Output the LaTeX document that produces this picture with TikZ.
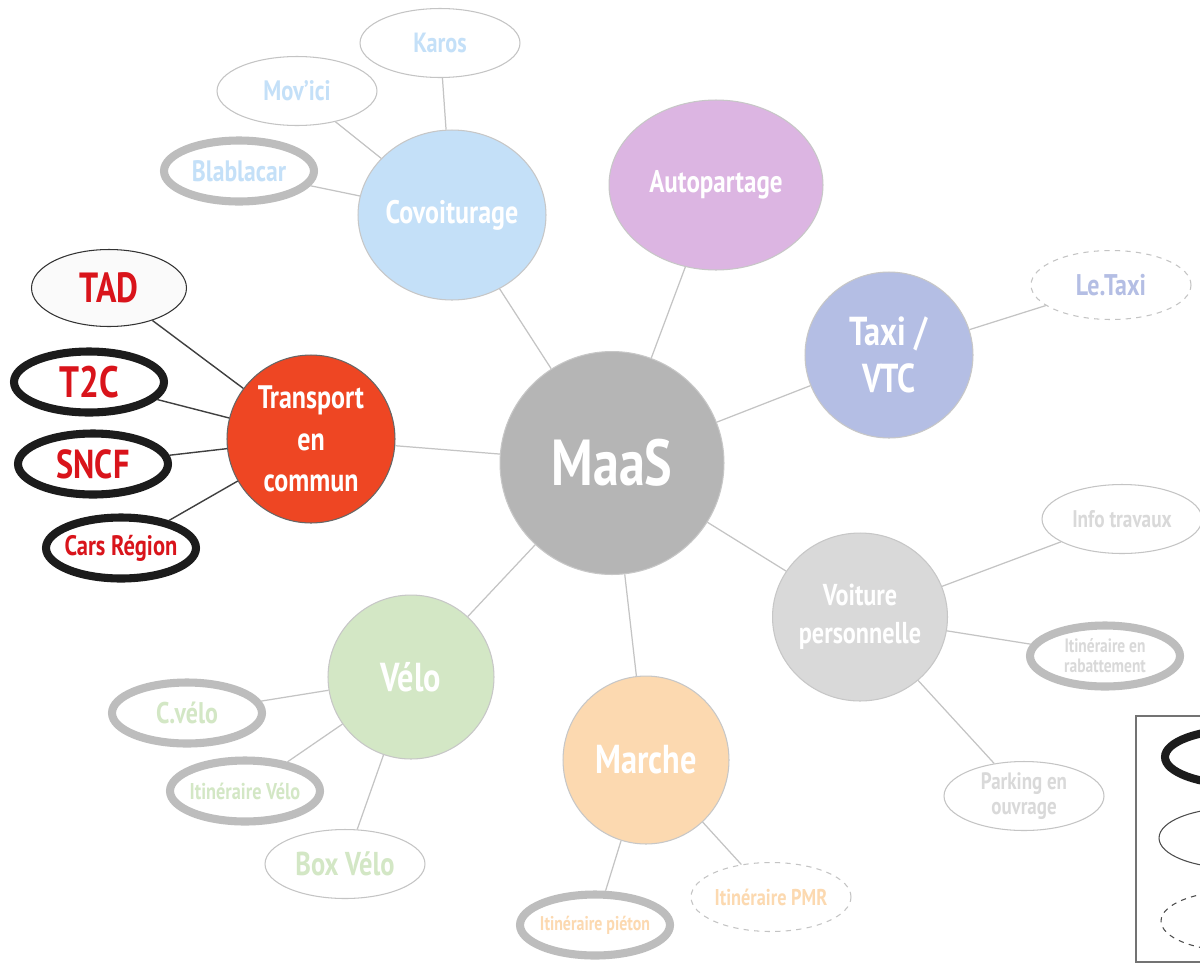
\documentclass[tikz,border=0pt]{standalone}
\usepackage{fontspec}
\setmainfont{PT Sans}[FakeStretch=0.8]
\usepackage{tikz}
\usetikzlibrary{shapes.geometric, positioning}
\definecolor{colMaas}{RGB}{181, 181, 181}
\definecolor{colCovoit}{RGB}{196, 224, 248}
\definecolor{colAutop}{RGB}{220, 181, 226}
\definecolor{colTaxi}{RGB}{180, 190, 228}
\definecolor{colTC}{RGB}{238, 70, 35}
\definecolor{colVelo}{RGB}{211, 231, 197}
\definecolor{colMarche}{RGB}{252, 217, 176}
\definecolor{colVoiture}{RGB}{217, 217, 217}
\definecolor{colRedTxt}{RGB}{217, 20, 27}
\definecolor{colLine}{RGB}{196, 196, 196}
\definecolor{colThick}{RGB}{189, 189, 189}
\definecolor{colBlack}{RGB}{28, 28, 28}

\begin{document}
\begin{tikzpicture}[x=0.02cm, y=-0.02cm,
    every node/.style={font=\bfseries, align=center},
    mode/.style={ellipse, inner sep=0pt, draw=black!22, line width=0.6pt, fill=#1, text=white},
    sat/.style={ellipse, inner xsep=-6pt, inner ysep=0pt, minimum width=3.2cm, minimum height=1.38cm, draw=colLine, line width=0.6pt, fill=white},
    satgray/.style={sat, minimum width=3.0cm, minimum height=1.22cm, draw=colThick, line width=4.6pt},
    satblack/.style={sat, minimum width=3.0cm, minimum height=1.22cm, draw=colBlack, line width=4.6pt},
    satdash/.style={sat, dashed, draw=colLine},
    link/.style={draw=colLine, line width=0.7pt},
    darklink/.style={draw=black!75, line width=0.8pt}]

    \clip (0,0) rectangle (1200,964);
    \fill[white] (0,0) rectangle (1200,964);

    % --- Centre ---
    \node[mode=colMaas, minimum width=4.48cm, minimum height=4.46cm, font=\fontsize{37}{40}\selectfont\bfseries] (maas) at (612,463) {MaaS};

    % --- Modes ---
    \node[mode=colCovoit, minimum width=3.76cm, minimum height=3.4cm, font=\fontsize{18.5}{21}\selectfont\bfseries] (covoit) at (452,215) {Covoiturage};
    \node[mode=colAutop, minimum width=4.28cm, minimum height=3.4cm, font=\fontsize{17.8}{21}\selectfont\bfseries] (autop) at (716,185) {Autopartage};
    \node[mode=colTaxi, minimum width=3.36cm, minimum height=3.32cm, font=\fontsize{23}{26.6}\selectfont\bfseries] (taxi) at (889,355) {Taxi /\\VTC};
    \node[mode=colTC, draw=black!60, inner sep=-4pt, minimum width=3.36cm, minimum height=3.36cm, font=\fontsize{18.5}{23.8}\selectfont\bfseries] (tc) at (311,439) {Transport\\en\\commun};
    \node[mode=colVelo, minimum width=3.32cm, minimum height=3.28cm, font=\fontsize{23}{26}\selectfont\bfseries] (velo) at (411,677) {Vélo};
    \node[mode=colMarche, minimum width=3.32cm, minimum height=3.36cm, font=\fontsize{23}{26}\selectfont\bfseries] (marche) at (646,760) {Marche};
    \node[mode=colVoiture, minimum width=3.5cm, minimum height=3.36cm, font=\fontsize{17.2}{21.5}\selectfont\bfseries] (voiture) at (860,617) {Voiture\\personnelle};

    % --- Covoiturage ---
    \node[sat, text=colCovoit, font=\fontsize{15.8}{17}\selectfont\bfseries] (karos) at (440,43) {Karos};
    \node[sat, text=colCovoit, font=\fontsize{16}{17}\selectfont\bfseries] (movici) at (297,91) {Mov'ici};
    \node[satgray, text=colCovoit, font=\fontsize{16.8}{18}\selectfont\bfseries] (blabla) at (239,171) {Blablacar};

    % --- Transport en commun ---
    \node[sat, draw=black!80, fill=black!2, minimum width=3.1cm, minimum height=1.54cm, text=colRedTxt, font=\fontsize{24}{26}\selectfont\bfseries] (tad) at (109,288) {TAD};
    \node[satblack, text=colRedTxt, font=\fontsize{25}{27}\selectfont\bfseries] (tdc) at (89,382) {T2C};
    \node[satblack, text=colRedTxt, font=\fontsize{23}{25}\selectfont\bfseries] (sncf) at (93,464) {SNCF};
    \node[satblack, text=colRedTxt, font=\fontsize{16}{18}\selectfont\bfseries] (cars) at (121,548) {Cars Région};

    % --- Taxi ---
    \node[satdash, text=colTaxi, font=\fontsize{17}{19}\selectfont\bfseries] (letaxi) at (1111,285) {Le.Taxi};

    % --- Voiture personnelle ---
    \node[sat, text=colVoiture, font=\fontsize{13.7}{15}\selectfont\bfseries] (info) at (1122,519) {Info travaux};
    \node[satgray, text=colVoiture, font=\fontsize{11}{11.3}\selectfont\bfseries] (rabat) at (1105,656) {Itinéraire en\\rabattement};
    \node[sat, text=colVoiture, font=\fontsize{13.5}{14.7}\selectfont\bfseries] (parking) at (1024,796) {Parking en\\ouvrage};

    % --- Marche ---
    \node[satdash, text=colMarche, font=\fontsize{13}{15}\selectfont\bfseries] (pmr) at (771,897) {Itinéraire PMR};
    \node[satgray, text=colMarche, font=\fontsize{11.3}{13}\selectfont\bfseries] (pieton) at (595,925) {Itinéraire piéton};

    % --- Vélo ---
    \node[sat, text=colVelo, font=\fontsize{18.8}{20}\selectfont\bfseries] (box) at (345,864) {Box Vélo};
    \node[satgray, text=colVelo, font=\fontsize{13}{15}\selectfont\bfseries] (itivelo) at (245,791) {Itinéraire Vélo};
    \node[satgray, text=colVelo, font=\fontsize{17}{19}\selectfont\bfseries] (cvelo) at (187,713) {C.vélo};

    % --- Liens ---
    \draw[link] (maas) -- (covoit);
    \draw[link] (maas) -- (autop);
    \draw[link] (maas) -- (taxi);
    \draw[link] (maas) -- (voiture);
    \draw[link] (maas) -- (marche);
    \draw[link] (maas) -- (velo);
    \draw[link] (maas) -- (tc);
    \draw[link] (covoit) -- (karos);
    \draw[link] (covoit) -- (movici);
    \draw[link] (covoit) -- (blabla);
    \draw[link] (taxi) -- (letaxi);
    \draw[link] (voiture) -- (info);
    \draw[link] (voiture) -- (rabat);
    \draw[link] (voiture) -- (parking);
    \draw[link] (marche) -- (pmr);
    \draw[link] (marche) -- (pieton);
    \draw[link] (velo) -- (box);
    \draw[link] (velo) -- (itivelo);
    \draw[link] (velo) -- (cvelo);
    \draw[darklink] (tc) -- (tad);
    \draw[darklink] (tc) -- (tdc);
    \draw[darklink] (tc) -- (sncf);
    \draw[darklink] (tc) -- (cars);

    % --- Légende ---
    \draw[draw=black!55, line width=1.2pt, fill=white] (1136,716) rectangle (1260,962);
    \node[satblack, minimum height=1.1cm] (legblack) at (1240,757) {};
    \node[sat, draw=black!70, minimum width=3.0cm, minimum height=1.2cm] (legthin) at (1234,838) {};
    \node[satdash, draw=black!70, minimum width=3.0cm, minimum height=1.2cm] (legdash) at (1236,921) {};

\end{tikzpicture}
\end{document}
